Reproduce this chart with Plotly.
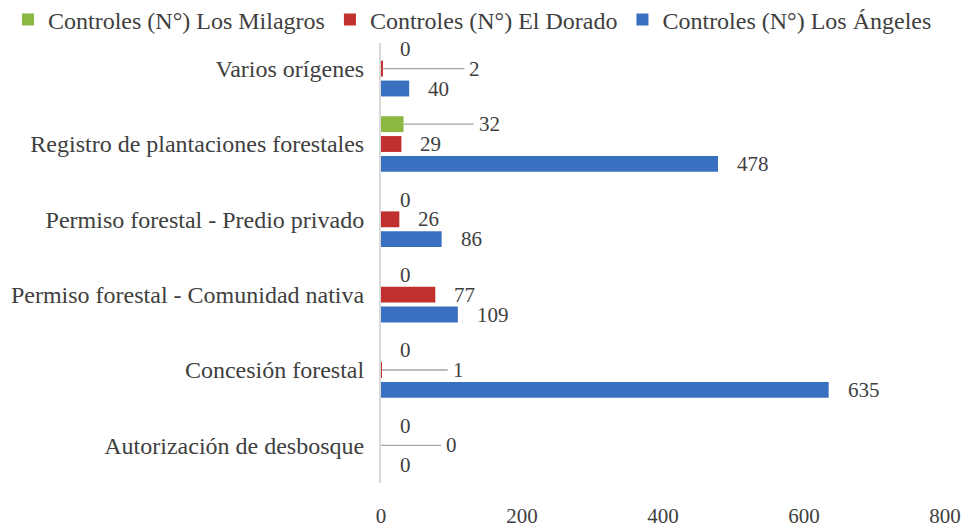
import plotly.graph_objects as go

categorias = [
    'Autorización de desbosque',
    'Concesión forestal',
    'Permiso forestal - Comunidad nativa',
    'Permiso forestal - Predio privado',
    'Registro de plantaciones forestales',
    'Varios orígenes',
]
los_angeles = [0, 635, 109, 86, 478, 40]
el_dorado = [0, 1, 77, 26, 29, 2]
los_milagros = [0, 0, 0, 0, 32, 0]

series = [
    ('Controles (N°) Los Ángeles', los_angeles, '#3a70c0'),
    ('Controles (N°) El Dorado', el_dorado, '#c0302e'),
    ('Controles (N°) Los Milagros', los_milagros, '#8cb844'),
]

# etiquetas movidas a mano con línea guía: (serie, categoría) -> desplazamiento en px
desplazadas = {
    (1, 5): 82,
    (2, 4): 70,
    (1, 1): 66,
    (1, 0): 60,
}

FONT = 'Liberation Serif'
TEXT = '#404040'
BARGAP = 0.21
W, H = 973, 529
OFF = 8  # margen del body de la página
ML, MR = 0, 15
X0 = 381 - OFF  # eje vertical (px)
X1 = 945 - OFF  # valor 800 (px)
GW = W - ML - MR

fig = go.Figure()
for nombre, valores, color in series:
    fig.add_trace(go.Bar(
        y=list(range(len(categorias))),
        x=valores,
        orientation='h',
        name=nombre,
        marker=dict(color=color, line=dict(width=0)),
        hoverinfo='x+name',
    ))

slot = (1 - BARGAP) / len(series)
for i, (nombre, valores, color) in enumerate(series):
    for j, v in enumerate(valores):
        yy = j + (i - 1) * slot
        if (i, j) in desplazadas:
            fig.add_annotation(
                x=v, y=yy, text=str(v), showarrow=True, arrowhead=0,
                arrowwidth=1.3, arrowcolor='#a6a6a6', ax=desplazadas[(i, j)], ay=0,
                xanchor='left', standoff=0, borderpad=4,
                font=dict(family=FONT, size=21, color=TEXT),
            )
        else:
            fig.add_annotation(
                x=v, y=yy, text=str(v), showarrow=False,
                xanchor='left', xshift=17,
                font=dict(family=FONT, size=21, color=TEXT),
            )

fig.update_layout(
    width=W,
    height=H,
    plot_bgcolor='white',
    paper_bgcolor='white',
    barmode='group',
    bargap=BARGAP,
    bargroupgap=0.2,
    margin=dict(l=ML, r=MR, t=31 - OFF, b=H - (483 - OFF), autoexpand=False),
    font=dict(family=FONT, size=22, color=TEXT),
    legend=dict(
        orientation='h', traceorder='reversed',
        x=0, xanchor='left', xref='paper',
        y=1 - (20 - OFF) / H, yanchor='middle', yref='container',
        font=dict(family=FONT, size=24, color=TEXT),
        itemwidth=30,
    ),
    showlegend=True,
)
fig.update_xaxes(
    domain=[(X0 - ML) / GW, (X1 - ML) / GW],
    range=[0, 800], dtick=200, showgrid=False, zeroline=False, showline=False,
    ticks='', ticklabelstandoff=18, automargin=False,
    tickfont=dict(family=FONT, size=21, color=TEXT),
)
fig.update_yaxes(
    range=[-0.5, len(categorias) - 0.5],
    tickvals=list(range(len(categorias))), ticktext=categorias,
    showgrid=False, zeroline=False, showline=True, linecolor='#d9d9d9', linewidth=2,
    ticks='', ticklabelstandoff=10, automargin=False,
    tickfont=dict(family=FONT, size=24, color=TEXT),
)

fig.write_html('out.html')
